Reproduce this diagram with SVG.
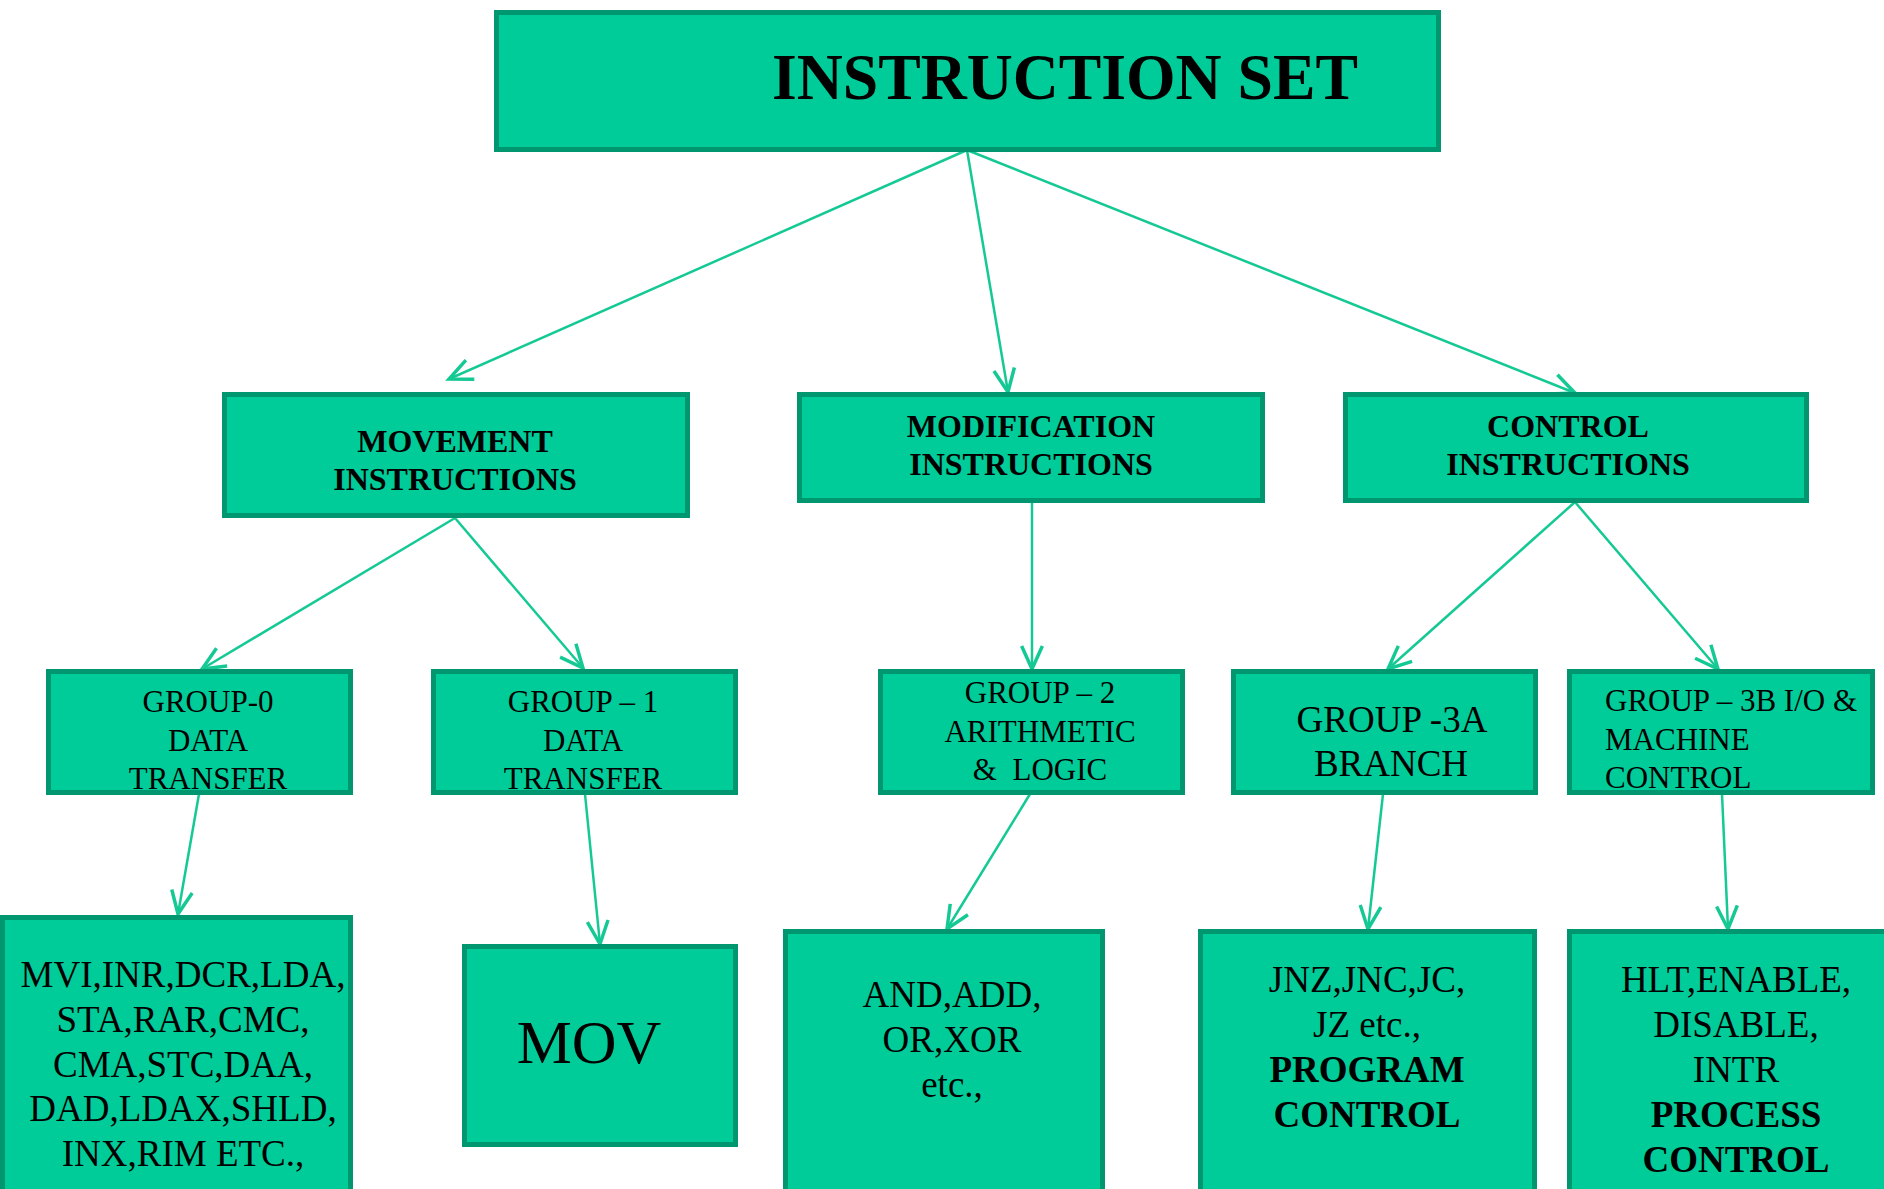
<svg xmlns="http://www.w3.org/2000/svg" width="1884" height="1189" viewBox="0 0 1884 1189">
<defs>
<marker id="arr" markerUnits="userSpaceOnUse" markerWidth="30" markerHeight="30" viewBox="-22 -12 26 24" refX="0" refY="0" orient="auto">
<path d="M-20,-9 L0,0 L-20,9" fill="none" stroke="#14C994" stroke-width="3" stroke-linejoin="miter"/>
</marker>
<style>
.box{fill:#00CC99;stroke:#009670;stroke-width:5}
.t{font-family:"Liberation Serif","Times New Roman",serif;fill:#000;text-anchor:middle}
.b{font-weight:bold}
.c{stroke:#14C994;stroke-width:2.5;fill:none;marker-end:url(#arr)}
</style>
</defs>
<rect width="1884" height="1189" fill="#fff"/>
<g id="connectors">
<line class="c" x1="967" y1="150" x2="449" y2="379"/>
<line class="c" x1="967" y1="150" x2="1008" y2="392"/>
<line class="c" x1="967" y1="150" x2="1575" y2="393"/>
<line class="c" x1="455" y1="518" x2="202" y2="669"/>
<line class="c" x1="455" y1="518" x2="583" y2="668"/>
<line class="c" x1="1032" y1="502" x2="1032" y2="669"/>
<line class="c" x1="1575" y1="502" x2="1388" y2="669"/>
<line class="c" x1="1575" y1="502" x2="1718" y2="669"/>
<line class="c" x1="199" y1="794" x2="178" y2="914"/>
<line class="c" x1="585" y1="794" x2="600" y2="944"/>
<line class="c" x1="1030" y1="794" x2="947" y2="929"/>
<line class="c" x1="1383" y1="794" x2="1368" y2="929"/>
<line class="c" x1="1722" y1="794" x2="1728" y2="929"/>
</g>
<g id="instruction-set">
<rect class="box" x="496.5" y="12.5" width="942" height="137"/>
<text class="t b" x="1065" y="99" font-size="66" textLength="586" lengthAdjust="spacingAndGlyphs">INSTRUCTION SET</text>
</g>
<g id="movement">
<rect class="box" x="224.5" y="394.5" width="463" height="121"/>
<text class="t b" x="455" y="452" font-size="32">MOVEMENT</text>
<text class="t b" x="455" y="490" font-size="32">INSTRUCTIONS</text>
</g>
<g id="modification">
<rect class="box" x="799.5" y="394.5" width="463" height="106"/>
<text class="t b" x="1031" y="437" font-size="32">MODIFICATION</text>
<text class="t b" x="1031" y="475" font-size="32">INSTRUCTIONS</text>
</g>
<g id="control">
<rect class="box" x="1345.5" y="394.5" width="461" height="106"/>
<text class="t b" x="1568" y="437" font-size="32">CONTROL</text>
<text class="t b" x="1568" y="475" font-size="32">INSTRUCTIONS</text>
</g>
<g id="group0">
<rect class="box" x="48.5" y="671.5" width="302" height="121"/>
<text class="t" x="208" y="712" font-size="31">GROUP-0</text>
<text class="t" x="208" y="751" font-size="31">DATA</text>
<text class="t" x="208" y="789" font-size="31">TRANSFER</text>
</g>
<g id="group1">
<rect class="box" x="433.5" y="671.5" width="302" height="121"/>
<text class="t" x="583" y="712" font-size="31">GROUP – 1</text>
<text class="t" x="583" y="751" font-size="31">DATA</text>
<text class="t" x="583" y="789" font-size="31">TRANSFER</text>
</g>
<g id="group2">
<rect class="box" x="880.5" y="671.5" width="302" height="121"/>
<text class="t" x="1040" y="703" font-size="31">GROUP – 2</text>
<text class="t" x="1040" y="742" font-size="31">ARITHMETIC</text>
<text class="t" x="1040" y="780" font-size="31">&amp;&#160; LOGIC</text>
</g>
<g id="group3a">
<rect class="box" x="1233.5" y="671.5" width="302" height="121"/>
<text class="t" x="1392" y="732" font-size="37">GROUP -3A</text>
<text class="t" x="1391" y="776" font-size="37">BRANCH</text>
</g>
<g id="group3b">
<rect class="box" x="1569.5" y="671.5" width="303" height="121"/>
<text class="t" x="1605" y="711" font-size="31" style="text-anchor:start">GROUP – 3B I/O &amp;</text>
<text class="t" x="1605" y="750" font-size="31" style="text-anchor:start">MACHINE</text>
<text class="t" x="1605" y="788" font-size="31" style="text-anchor:start">CONTROL</text>
</g>
<g id="list0">
<rect class="box" x="2.5" y="917.5" width="348" height="300"/>
<text class="t" x="183" y="987" font-size="37">MVI,INR,DCR,LDA,</text>
<text class="t" x="183" y="1032" font-size="37">STA,RAR,CMC,</text>
<text class="t" x="183" y="1077" font-size="37">CMA,STC,DAA,</text>
<text class="t" x="183" y="1121" font-size="37">DAD,LDAX,SHLD,</text>
<text class="t" x="183" y="1166" font-size="37">INX,RIM ETC.,</text>
</g>
<g id="mov">
<rect class="box" x="464.5" y="946.5" width="271" height="198"/>
<text class="t" x="589" y="1063" font-size="62">MOV</text>
</g>
<g id="list2">
<rect class="box" x="785.5" y="931.5" width="317" height="300"/>
<text class="t" x="952" y="1007" font-size="37">AND,ADD,</text>
<text class="t" x="952" y="1052" font-size="37">OR,XOR</text>
<text class="t" x="952" y="1097" font-size="37">etc.,</text>
</g>
<g id="list3a">
<rect class="box" x="1200.5" y="931.5" width="334" height="300"/>
<text class="t" x="1367" y="992" font-size="37">JNZ,JNC,JC,</text>
<text class="t" x="1367" y="1037" font-size="37">JZ etc.,</text>
<text class="t b" x="1367" y="1082" font-size="37">PROGRAM</text>
<text class="t b" x="1367" y="1127" font-size="37">CONTROL</text>
</g>
<g id="list3b">
<rect class="box" x="1569.5" y="931.5" width="340" height="300"/>
<text class="t" x="1736" y="992" font-size="37">HLT,ENABLE,</text>
<text class="t" x="1736" y="1037" font-size="37">DISABLE,</text>
<text class="t" x="1736" y="1082" font-size="37">INTR</text>
<text class="t b" x="1736" y="1127" font-size="37">PROCESS</text>
<text class="t b" x="1736" y="1172" font-size="37">CONTROL</text>
</g>
</svg>
